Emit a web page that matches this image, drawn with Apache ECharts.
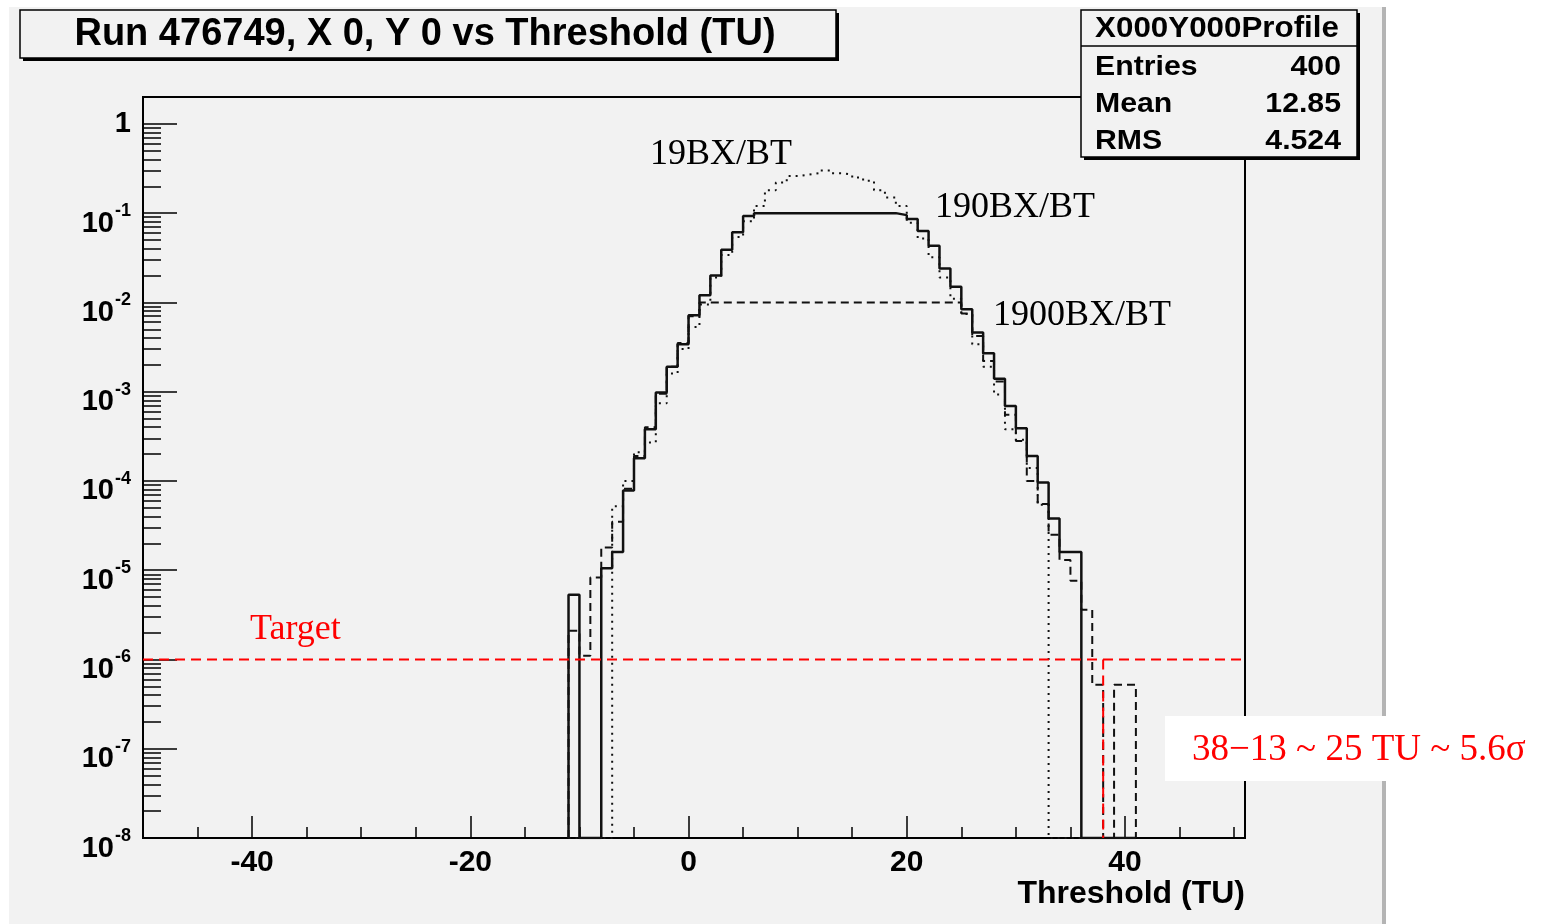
<!DOCTYPE html>
<html>
<head>
<meta charset="utf-8">
<title>Run 476749, X 0, Y 0 vs Threshold (TU)</title>
<script src="https://cdn.jsdelivr.net/npm/echarts@6/dist/echarts.min.js"></script>
<style>
  html, body { margin: 0; padding: 0; background: #fff; }
  #chart { width: 1546px; height: 924px; }
</style>
</head>
<body>
<div id="chart"></div>
<script>
// Histogram bins are 1 TU wide; the first listed bin starts at FIRST_EDGE.
const FIRST_EDGE = -11

// 19BX/BT (dotted)
const bins19 = [
  0, 0, 0, 0,
  5.2e-5, 1.0e-4, 2.1e-4, 2.7e-4, 7.4e-4, 1.6e-3, 3.0e-3, 5.3e-3,
  9.5e-3, 0.019, 0.034, 0.054, 0.081, 0.12, 0.18, 0.22, 0.26, 0.27,
  0.28, 0.30, 0.28, 0.27, 0.25, 0.23, 0.18, 0.15, 0.12, 0.078,
  0.052, 0.032, 0.019, 0.011, 7.4e-3, 3.4e-3, 1.9e-3, 9.3e-4, 3.8e-4, 2.9e-4,
  1.4e-4, 5.4e-5,
  0, 0, 0, 0, 0, 0, 0, 0
]

// 190BX/BT (solid)
const bins190 = [
  5.3e-6, 0, 0, 1.05e-5, 1.6e-5, 7.8e-5, 1.8e-4, 3.8e-4, 9.8e-4, 1.9e-3,
  3.4e-3, 7.2e-3, 0.012, 0.020, 0.039, 0.061, 0.093,
  0.1, 0.1, 0.1, 0.1, 0.1, 0.1, 0.1, 0.1, 0.1, 0.1, 0.1, 0.1, 0.1,
  0.095, 0.086, 0.063, 0.043, 0.024, 0.015, 8.4e-3, 4.6e-3, 2.7e-3, 1.4e-3,
  6.9e-4, 3.9e-4, 1.9e-4, 9.6e-5, 3.8e-5, 1.6e-5, 1.6e-5,
  0, 0, 0, 0, 0
]

// 1900BX/BT (dashed)
const bins1900 = [
  2.1e-6, 1.1e-6, 8.3e-6, 1.8e-5, 3.5e-5, 8.2e-5, 1.9e-4, 4.0e-4, 9.5e-4, 1.9e-3,
  3.5e-3, 7.0e-3,
  0.01, 0.01, 0.01, 0.01, 0.01, 0.01, 0.01, 0.01, 0.01, 0.01, 0.01, 0.01,
  0.01, 0.01, 0.01, 0.01, 0.01, 0.01, 0.01, 0.01, 0.01, 0.01, 0.01, 0.01,
  7.5e-3, 4.2e-3, 2.2e-3, 1.3e-3, 5.5e-4, 2.8e-4, 1.0e-4, 5.5e-5, 2.5e-5, 1.3e-5,
  7.6e-6, 3.6e-6, 5.2e-7, 0, 5.2e-7, 5.2e-7
]

const xLabelTicks = [-40, -20, 0, 20, 40]
const yDecades = [1e-8, 1e-7, 1e-6, 1e-5, 1e-4, 1e-3, 1e-2, 1e-1, 1]
const X_MIN = -50
const X_MAX = 51
const Y_MIN = 1e-8
const Y_MAX = 2

const targetLevel = 1e-6
const cutThreshold = 38

const statsTitle = 'X000Y000Profile'
const statsRows = [['Entries', '400'], ['Mean', '12.85'], ['RMS', '4.524']]

const SANS = '"Liberation Sans", Arial, sans-serif'
const SERIF = '"Liberation Serif", "Times New Roman", serif'
const BG = '#f2f2f2'

// minor ticks at 2..9 of every decade
const yMinor = []
yDecades.forEach(d => {
  for (let k = 2; k <= 9; k++) {
    if (k * d <= Y_MAX) yMinor.push(k * d)
  }
})

// bin contents -> outline points; empty bins sit on the axis floor
function stepData(values) {
  const pts = [[FIRST_EDGE, Y_MIN]]
  values.forEach((v, i) => pts.push([FIRST_EDGE + i, v > 0 ? v : Y_MIN]))
  pts.push([FIRST_EDGE + values.length, Y_MIN])
  return pts
}

function histSeries(name, values, dash) {
  return {
    name: name,
    type: 'line',
    step: 'end',
    showSymbol: false,
    symbol: 'none',
    data: stepData(values),
    lineStyle: { color: '#111', width: dash === 'solid' ? 2.5 : 2, type: dash },
    z: dash === 'solid' ? 4 : 3,
  }
}

function yLabel(value) {
  const exp = Math.round(Math.log10(value))
  if (exp === 0) return '{one|1}'
  return '{b|10}{s|' + exp + '}'
}

const chart = echarts.init(document.getElementById('chart'))

const boxText = (x, y, text, size, align, extra) => Object.assign({
  type: 'text',
  x: x,
  y: y,
  z: 101,
  style: {
    text: text,
    fontFamily: SANS,
    fontWeight: 'bold',
    fontSize: size,
    fill: '#000',
    align: align,
    verticalAlign: 'middle',
  },
}, extra || {})

const noteText = (x, y, text, color, size) => ({
  type: 'text',
  x: x,
  y: y,
  z: 101,
  style: {
    text: text,
    fontFamily: SERIF,
    fontSize: size || 36,
    fill: color,
    align: 'left',
    verticalAlign: 'middle',
  },
})

const graphics = [
  // canvas panel
  { type: 'rect', z: -10, shape: { x: 9, y: 7, width: 1373, height: 917 }, style: { fill: BG } },
  { type: 'rect', z: -10, shape: { x: 1382, y: 7, width: 4, height: 917 }, style: { fill: '#b4b4b4' } },
  // title box
  { type: 'rect', z: 100, shape: { x: 23, y: 13, width: 816, height: 48 }, style: { fill: '#000' } },
  { type: 'rect', z: 100, shape: { x: 20, y: 10, width: 816, height: 48 }, style: { fill: BG, stroke: '#000', lineWidth: 1.5 } },
  boxText(425, 35, 'Run 476749, X 0, Y 0 vs Threshold (TU)', 38, 'center'),
  // stats box
  { type: 'rect', z: 100, shape: { x: 1084, y: 13, width: 276, height: 147 }, style: { fill: '#000' } },
  { type: 'rect', z: 100, shape: { x: 1081, y: 10, width: 276, height: 147 }, style: { fill: BG, stroke: '#000', lineWidth: 1.5 } },
  { type: 'line', z: 100, shape: { x1: 1081, y1: 46, x2: 1357, y2: 46 }, style: { stroke: '#000', lineWidth: 1.5 } },
  boxText(1217, 29, statsTitle, 29, 'center', { scaleX: 1.08 }),
  // annotations
  noteText(650, 155, '19BX/BT', '#000'),
  noteText(935, 208, '190BX/BT', '#000'),
  noteText(993, 316, '1900BX/BT', '#000'),
  noteText(250, 630, 'Target', '#ff0000'),
  { type: 'rect', z: 100, shape: { x: 1165, y: 716, width: 381, height: 65 }, style: { fill: '#fff' } },
  noteText(1192, 750, '38\u221213 ~ 25 TU ~ 5.6\u03c3', '#ff0000', 37),
]

statsRows.forEach((row, i) => {
  const y = 67 + i * 37
  graphics.push(boxText(1095, y, row[0], 28, 'left', { scaleX: 1.08 }))
  graphics.push(boxText(1341, y, row[1], 28, 'right', { scaleX: 1.08 }))
})

const option = {
  animation: false,
  backgroundColor: '#fff',
  grid: {
    left: 143,
    top: 97,
    width: 1102,
    height: 741,
    show: true,
    borderColor: '#000',
    borderWidth: 2,
    backgroundColor: 'transparent',
  },
  xAxis: [
    {
      type: 'value',
      min: X_MIN,
      max: X_MAX,
      interval: 5,
      axisLine: { onZero: false, lineStyle: { color: '#000', width: 2 } },
      axisTick: { inside: true, length: 11, lineStyle: { color: '#000', width: 1.5 } },
      axisLabel: {
        margin: 10,
        fontFamily: SANS,
        fontWeight: 'bold',
        fontSize: 30,
        color: '#000',
        formatter: v => (xLabelTicks.indexOf(v) >= 0 ? String(v) : ''),
      },
      splitLine: { show: false },
      name: 'Threshold (TU)',
      nameLocation: 'end',
      nameGap: 0,
      nameTextStyle: {
        fontFamily: SANS,
        fontWeight: 'bold',
        fontSize: 32,
        color: '#000',
        align: 'right',
        verticalAlign: 'top',
        padding: [40, 0, 0, 0],
      },
    },
    {
      // long ticks at the labelled values
      type: 'value',
      position: 'bottom',
      offset: 0,
      min: X_MIN,
      max: X_MAX,
      axisLine: { show: false, onZero: false },
      axisTick: { inside: true, length: 22, customValues: xLabelTicks, lineStyle: { color: '#000', width: 1.5 } },
      axisLabel: { show: false },
      splitLine: { show: false },
    },
  ],
  yAxis: [
    {
      type: 'log',
      position: 'left',
      min: Y_MIN,
      max: Y_MAX,
      axisLine: { onZero: false, lineStyle: { color: '#000', width: 2 } },
      axisTick: { inside: true, length: 34, customValues: yDecades, lineStyle: { color: '#000', width: 1.5 } },
      axisLabel: {
        customValues: yDecades,
        margin: 12,
        color: '#000',
        formatter: yLabel,
        rich: {
          one: { fontFamily: SANS, fontWeight: 'bold', fontSize: 29, lineHeight: 29 },
          b: { fontFamily: SANS, fontWeight: 'bold', fontSize: 29, lineHeight: 50, verticalAlign: 'bottom' },
          s: { fontFamily: SANS, fontWeight: 'bold', fontSize: 18, lineHeight: 50, verticalAlign: 'bottom', padding: [0, 0, 18, 1] },
        },
      },
      splitLine: { show: false },
    },
    {
      // minor ticks 2..9 per decade
      type: 'log',
      position: 'left',
      offset: 0,
      min: Y_MIN,
      max: Y_MAX,
      axisLine: { show: false, onZero: false },
      axisTick: { inside: true, length: 18, customValues: yMinor, lineStyle: { color: '#000', width: 1.5 } },
      axisLabel: { show: false },
      splitLine: { show: false },
    },
  ],
  graphic: graphics,
  series: [
    histSeries('19BX/BT', bins19, [2, 5]),
    histSeries('1900BX/BT', bins1900, [8, 5]),
    histSeries('190BX/BT', bins190, 'solid'),
    {
      name: 'Target',
      type: 'line',
      symbol: 'none',
      data: [[X_MIN, targetLevel], [X_MAX, targetLevel]],
      lineStyle: { color: '#ff0000', width: 2, type: [10, 6] },
      z: 5,
    },
    {
      name: 'Cut',
      type: 'line',
      symbol: 'none',
      data: [[cutThreshold, targetLevel], [cutThreshold, Y_MIN]],
      lineStyle: { color: '#ff0000', width: 2, type: [10, 6] },
      z: 5,
    },
  ],
}

chart.setOption(option)

window.addEventListener('resize', () => {
  chart.resize()
})
</script>
</body>
</html>
